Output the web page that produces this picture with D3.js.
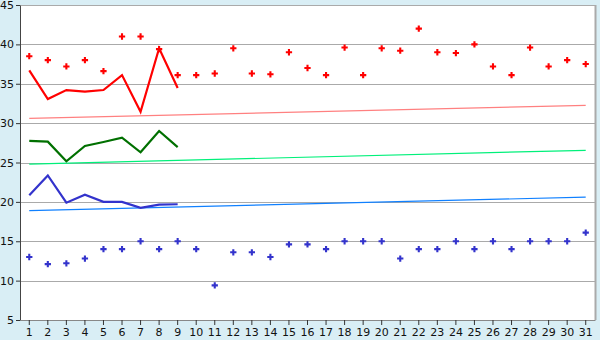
<!DOCTYPE html>
<html><head><meta charset="utf-8">
<script src="https://cdn.jsdelivr.net/npm/d3@7"></script>
<style>
html,body{margin:0;padding:0;background:#d9eef5;}
svg{display:block;font-family:"DejaVu Sans",Verdana,sans-serif;}
</style></head>
<body>
<svg id="c" width="600" height="340"></svg>
<script>
const days = d3.range(1, 32);
const yTicks = [5, 10, 15, 20, 25, 30, 35, 40, 45];
const redPoints = [38.5, 38, 37.2, 38, 36.6, 41, 41, 39.4, 36.1, 36.1, 36.3, 39.5, 36.3, 36.2, 39, 37, 36.1, 39.6, 36.1, 39.5, 39.2, 42, 39, 38.9, 40, 37.2, 36.1, 39.6, 37.2, 38, 37.5];
const bluePoints = [13, 12.1, 12.2, 12.8, 14, 14, 15, 14, 15, 14, 9.4, 13.6, 13.6, 13, 14.6, 14.6, 14, 15, 15, 15, 12.8, 14, 14, 15, 14, 15, 14, 15, 15, 15, 16.1];
const redLine = [36.7, 33.05, 34.2, 34, 34.2, 36.1, 31.45, 39.5, 34.45];
const greenLine = [27.75, 27.65, 25.15, 27.1, 27.6, 28.15, 26.3, 29, 26.95];
const blueLine = [20.85, 23.35, 19.9, 20.9, 20, 20, 19.25, 19.65, 19.7];
const trendDays = [1, 31];
const redTrend = [30.6, 32.25];
const greenTrend = [24.8, 26.55];
const blueTrend = [18.9, 20.6];

const svg = d3.select("#c");
const L = 20, R = 595, T = 5, B = 320;
const x = d3.scaleBand().domain(days).range([L, R]);
const cx = d => x(d) + x.bandwidth() / 2;
const y = d3.scaleLinear().domain([5, 45]).range([B, T]);

svg.append("rect").attr("x", L).attr("y", T).attr("width", R - L).attr("height", B - T).attr("fill", "#fff");

// grid
svg.append("g").selectAll("line").data(yTicks.filter(v => v > 5)).join("line")
  .attr("x1", L).attr("x2", R).attr("y1", d => Math.round(y(d)) + 0.5).attr("y2", d => Math.round(y(d)) + 0.5)
  .attr("stroke", "#aaaaaa").attr("stroke-width", 1).attr("shape-rendering", "crispEdges");
// right border
svg.append("line").attr("x1", R + 0.5).attr("x2", R + 0.5).attr("y1", T).attr("y2", B)
  .attr("stroke", "#aaaaaa").attr("stroke-width", 2);

// axes
const xAxis = d3.axisBottom(x).tickSize(5).tickSizeOuter(0).tickPadding(3);
const gx = svg.append("g").attr("transform", `translate(0,${B})`).call(xAxis);
gx.select(".domain").attr("stroke", "#888");
gx.selectAll(".tick line").attr("stroke", "#333");
gx.selectAll("text").attr("font-size", 11).attr("fill", "#111").attr("font-family", "DejaVu Sans, Verdana, sans-serif");

const yAxis = d3.axisLeft(y).tickValues(yTicks).tickSize(4).tickSizeOuter(0).tickPadding(2);
const gy = svg.append("g").attr("transform", `translate(${L},0)`).call(yAxis);
gy.select(".domain").attr("stroke", "#444");
gy.selectAll(".tick line").attr("stroke", "#333");
gy.selectAll("text").attr("font-size", 11).attr("fill", "#111").attr("font-family", "DejaVu Sans, Verdana, sans-serif");

// trend lines
function trend(vals, color) {
  svg.append("path").datum(trendDays.map((d, i) => [cx(d), y(vals[i])]))
    .attr("d", d3.line()).attr("fill", "none").attr("stroke", color).attr("stroke-width", 1.2);
}
trend(redTrend, "#ff8080");
trend(greenTrend, "#00f07a");
trend(blueTrend, "#1080ff");

// data lines
function dline(vals, color) {
  svg.append("path").datum(vals.map((v, i) => [cx(days[i]), y(v)]))
    .attr("d", d3.line()).attr("fill", "none").attr("stroke", color).attr("stroke-width", 2.2)
    .attr("stroke-linejoin", "miter");
}
dline(redLine, "#ff0000");
dline(greenLine, "#007000");
dline(blueLine, "#3333cc");

// points
const sym = d3.symbol().type(d3.symbolCross).size(22);
function pts(vals, color) {
  svg.append("g").selectAll("path").data(vals).join("path")
    .attr("transform", (v, i) => `translate(${cx(days[i])},${y(v)})`)
    .attr("d", sym).attr("fill", color);
}
pts(redPoints, "#ff0000");
pts(bluePoints, "#3333cc");
</script>
</body></html>
